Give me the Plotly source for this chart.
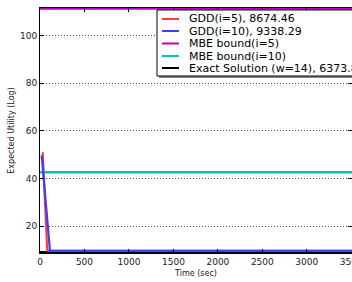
import plotly.graph_objects as go

# ---- data ----
series_names = [
    "GDD(i=5), 8674.46",
    "GDD(i=10), 9338.29",
    "MBE bound(i=5)",
    "MBE bound(i=10)",
    "Exact Solution (w=14), 6373.80",
]
colors = ["#ff3c3c", "#3c3cff", "#bf00bf", "#00bfbf", "#000000"]

gdd5_time = [30, 82, 3600]
gdd5_vals = [51.0, 9.6, 9.6]
gdd10_time = [19, 112, 3600]
gdd10_vals = [49.7, 9.6, 9.6]
mbe5_time = [0, 3600]
mbe5_vals = [111.4, 111.4]
mbe10_time = [0, 3600]
mbe10_vals = [42.6, 42.6]
exact_time = [0, 3600]
exact_vals = [8.95, 8.95]

x_ticks = [0, 500, 1000, 1500, 2000, 2500, 3000, 3500]
y_ticks = [20, 40, 60, 80, 100]

FONT = "DejaVu Sans"

fig = go.Figure()
traces = [
    (mbe5_time, mbe5_vals, 2.5),
    (mbe10_time, mbe10_vals, 2.5),
    (exact_time, exact_vals, 2.5),
    (gdd5_time, gdd5_vals, 2.2),
    (gdd10_time, gdd10_vals, 2.2),
]
order = [2, 3, 4, 0, 1]
for (t, v, w), idx in zip(traces, order):
    fig.add_trace(go.Scatter(x=t, y=v, mode="lines", name=series_names[idx],
                             line=dict(color=colors[idx], width=w),
                             showlegend=False, cliponaxis=True))

W, H = 352, 282
L, T, B = 40, 8, 29
pw = W - L
ph = H - T - B

def px(x):
    return (x - L) / pw

def py(y):
    return (H - B - y) / ph

shapes = []
shapes.append(dict(type="rect", xref="paper", yref="paper",
                   x0=px(159), x1=px(420), y0=py(78), y1=py(12),
                   fillcolor="#888888", line=dict(width=0), layer="above"))
shapes.append(dict(type="rect", xref="paper", yref="paper",
                   x0=px(157), x1=px(418), y0=py(76), y1=py(10),
                   fillcolor="white", line=dict(color="black", width=1), layer="above"))
annotations = []
entry_y = [19, 31, 43.5, 56, 68]
for name, col, ey in zip(series_names, colors, entry_y):
    shapes.append(dict(type="line", xref="paper", yref="paper",
                       x0=px(162), x1=px(179), y0=py(ey), y1=py(ey),
                       line=dict(color=col, width=2), layer="above"))
    annotations.append(dict(text=name, xref="paper", yref="paper",
                            x=px(187), y=py(ey), xanchor="left", yanchor="middle",
                            showarrow=False, font=dict(family=FONT, size=11, color="black")))

fig.update_layout(
    width=W, height=H,
    margin=dict(l=L, r=0, t=T, b=B, autoexpand=False, pad=0),
    paper_bgcolor="white", plot_bgcolor="white",
    font=dict(family=FONT, size=9, color="#222222"),
    shapes=shapes, annotations=annotations,
    showlegend=False,
)
fig.update_xaxes(
    range=[0, 3508], tickvals=x_ticks, ticktext=[str(v) for v in x_ticks],
    showgrid=False, zeroline=False,
    showline=True, linecolor="black", linewidth=1, mirror="ticks",
    ticks="inside", ticklen=4, tickcolor="black",
    tickfont=dict(family=FONT, size=9), ticklabeloverflow="allow",
    title=dict(text="Time (sec)", font=dict(family=FONT, size=8), standoff=4),
    automargin=False,
)
fig.update_yaxes(
    range=[8.65, 111.64], tickvals=y_ticks, ticktext=[str(v) for v in y_ticks],
    showgrid=True, gridcolor="#555555", griddash="1px,2px", gridwidth=1,
    zeroline=False,
    showline=True, linecolor="black", linewidth=1, mirror="ticks",
    ticks="inside", ticklen=4, tickcolor="black",
    tickfont=dict(family=FONT, size=9),
    title=dict(text="Expected Utility (Log)", font=dict(family=FONT, size=8), standoff=4),
    automargin=False,
)

fig.write_html(
    "out.html",
    config={"displayModeBar": False},
    post_script="document.body.style.margin='0';document.body.style.overflow='hidden';",
)
